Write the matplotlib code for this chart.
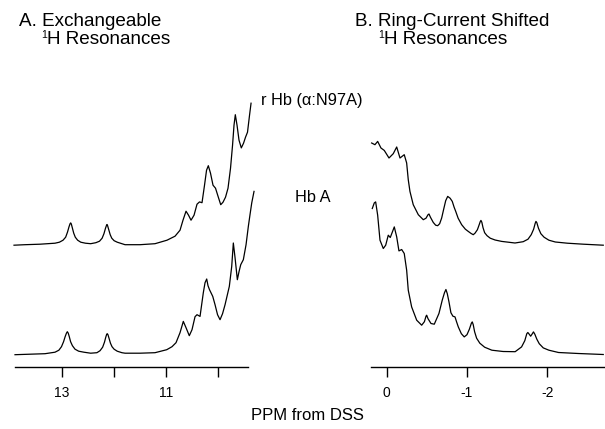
import matplotlib
matplotlib.use("Agg")
import matplotlib.pyplot as plt

plt.rcParams['font.family'] = ['Liberation Sans', 'DejaVu Sans']

# ---------------- Data (ppm, intensity above each trace's baseline) ----------------
# Panel A: exchangeable 1H resonances
a_upper_ppm = [13.921, 13.710, 13.422, 13.134, 13.050, 12.980, 12.930, 12.895, 12.865, 12.845,
               12.833, 12.820, 12.800, 12.775, 12.745, 12.700, 12.640, 12.550, 12.450, 12.350,
               12.280, 12.230, 12.195, 12.165, 12.145, 12.136, 12.125, 12.100, 12.075, 12.045,
               12.000, 11.940, 11.850, 11.790, 11.503, 11.215, 10.985, 10.831, 10.735, 10.678,
               10.620, 10.572, 10.524, 10.466, 10.409, 10.361, 10.313, 10.265, 10.226, 10.192,
               10.150, 10.102, 10.054, 10.006, 9.954, 9.910, 9.862, 9.814, 9.766, 9.727,
               9.699, 9.674, 9.641, 9.603, 9.559, 9.516, 9.478, 9.440, 9.401, 9.372]
a_upper_int = [0, 0.5, 1, 2, 3, 5, 8, 13, 18.5, 21.5,
               22.3, 21, 17, 12, 8, 5, 3, 2, 1.5, 2.5,
               4, 7, 11.5, 17, 20, 20.7, 19.5, 15, 10.5, 7,
               4.5, 3, 1.5, 0.5, 0.5, 1.5, 5, 9, 15, 25,
               34, 30, 25, 30, 41, 43.3, 42.5, 60, 75, 79.5,
               72, 60, 57, 49, 40.5, 43, 48, 57, 77, 100,
               120, 130.5, 120, 105, 97.3, 102, 108, 113, 130, 142]

a_lower_ppm = [13.902, 13.614, 13.326, 13.134, 13.060, 13.010, 12.970, 12.940, 12.915, 12.898,
               12.880, 12.860, 12.835, 12.800, 12.750, 12.680, 12.580, 12.450, 12.330, 12.270,
               12.220, 12.185, 12.160, 12.142, 12.131, 12.118, 12.095, 12.070, 12.040, 12.000,
               11.940, 11.850, 11.790, 11.503, 11.215, 10.990, 10.889, 10.812, 10.735, 10.672,
               10.620, 10.557, 10.505, 10.447, 10.409, 10.351, 10.288, 10.255, 10.223, 10.198,
               10.169, 10.107, 10.063, 10.015, 9.967, 9.919, 9.871, 9.789, 9.743, 9.712,
               9.679, 9.635, 9.603, 9.570, 9.520, 9.468, 9.424, 9.392, 9.359, 9.315]
a_lower_int = [0, 0.5, 1, 2.5, 4.5, 8, 13, 18, 21.5, 23,
               21.5, 18, 13, 9, 5.5, 3.5, 2.5, 1.5, 2, 4,
               7.5, 12.5, 17.5, 20.5, 21, 20, 16, 11.5, 8, 5.5,
               3.5, 2, 1.5, 1.5, 2, 5, 8, 12, 22, 33.3,
               27, 19, 25, 38, 40, 38.3, 62, 72, 75.7, 69,
               65, 58.3, 50, 40, 35, 41, 50, 68.3, 88.3, 111.7,
               97, 75, 83, 90, 95, 110, 128.3, 140, 151.7, 163.3]

# Panel B: ring-current shifted 1H resonances
b_upper_ppm = [0.187, 0.146, 0.112, 0.071, 0.030, -0.029, -0.082, -0.125, -0.166, -0.219,
               -0.249, -0.269, -0.290, -0.331, -0.394, -0.456, -0.490, -0.515, -0.527, -0.545,
               -0.580, -0.610, -0.635, -0.660, -0.685, -0.710, -0.735, -0.760, -0.790, -0.817,
               -0.840, -0.860, -0.890, -0.934, -0.980, -1.016, -1.050, -1.078, -1.100, -1.130,
               -1.150, -1.165, -1.174, -1.185, -1.200, -1.220, -1.250, -1.290, -1.350, -1.432,
               -1.598, -1.700, -1.760, -1.800, -1.830, -1.850, -1.859, -1.870, -1.890, -1.920,
               -1.960, -2.020, -2.100, -2.250, -2.450, -2.697]
b_upper_int = [102.2, 100.5, 103.8, 97.2, 94.8, 87.2, 91.5, 98.2, 87.2, 90.5,
               82.2, 65.5, 53.8, 40.5, 30.5, 25.5, 27, 30.5, 31.2, 28,
               22.8, 20, 19.5, 21.5, 27.2, 36, 44.5, 48.8, 47, 43.8,
               38, 33.8, 27, 20.5, 16, 13.8, 11.8, 10.5, 12, 15.5,
               20, 23.5, 24.8, 23, 17.5, 12.5, 9.5, 7, 5.2, 3.8,
               2.2, 3.5, 6, 10.5, 16, 22, 23.8, 22.5, 17, 11.5,
               8, 5, 3.2, 2, 1, 0]

b_lower_ppm = [0.179, 0.154, 0.137, 0.112, 0.083, 0.042, 0.012, -0.020, -0.045, -0.095,
               -0.125, -0.153, -0.187, -0.219, -0.249, -0.269, -0.311, -0.374, -0.436, -0.470,
               -0.490, -0.498, -0.515, -0.552, -0.593, -0.651, -0.692, -0.720, -0.738, -0.755,
               -0.776, -0.800, -0.825, -0.851, -0.870, -0.892, -0.930, -0.966, -1.000, -1.030,
               -1.055, -1.066, -1.078, -1.095, -1.120, -1.160, -1.220, -1.310, -1.450, -1.600,
               -1.680, -1.720, -1.745, -1.758, -1.775, -1.793, -1.810, -1.828, -1.845, -1.870,
               -1.900, -1.950, -2.020, -2.140, -2.386, -2.697]
b_lower_int = [146.2, 151.8, 152.8, 139.5, 114.5, 106.2, 109.5, 119.5, 117.2, 127.8,
               117.8, 103.8, 105.2, 101.2, 84.5, 64.5, 47.8, 34.5, 29.5, 33,
               38.5, 39.5, 36, 31.2, 30.5, 41.2, 54.5, 62, 65.2, 61,
               52.8, 42, 38.5, 37.8, 33, 27.8, 21, 17.8, 20, 25.5,
               31.5, 32.8, 30, 23, 16.5, 11.5, 7.5, 4.5, 3.2, 3,
               7.8, 14, 21, 22.2, 20.5, 18.5, 20.5, 22.8, 20.5, 15.5,
               11, 6.8, 4.5, 2.2, 1.2, 0.2]

a_ticks = [13, 12, 11, 10]
a_ticklabels = ["13", "", "11", ""]
b_ticks = [0, -1, -2]
b_ticklabels = ["0", "-1", "-2"]

# ---------------- Layout ----------------
W, H = 605, 429
fig = plt.figure(figsize=(W / 100, H / 100), dpi=100)

axis_y = 366.7
top_y = 60.0
upper_offset = 121.5
lower_offset = 12.0


def add_axes(x0, x1):
    return fig.add_axes([x0 / W, (H - axis_y) / H, (x1 - x0) / W, (axis_y - top_y) / H])


def px(x, y):
    return x / W, 1 - y / H


axA = add_axes(12.5, 254.8)
axB = add_axes(371.4, 605.1)

for ax, xl, bounds, ticks, labels, traces in [
    (axA, (13.95, 9.30), (13.90, 9.43), a_ticks, a_ticklabels,
     [(a_upper_ppm, a_upper_int, upper_offset), (a_lower_ppm, a_lower_int, lower_offset)]),
    (axB, (0.19, -2.72), (0.19, -2.72), b_ticks, b_ticklabels,
     [(b_upper_ppm, b_upper_int, upper_offset), (b_lower_ppm, b_lower_int, lower_offset)]),
]:
    for xs, ys, off in traces:
        ax.plot(xs, [v + off for v in ys], color='black', lw=0.9, clip_on=False,
                solid_joinstyle='round')
    ax.set_xlim(*xl)
    ax.set_ylim(0, axis_y - top_y)
    for s in ['left', 'right', 'top']:
        ax.spines[s].set_visible(False)
    ax.spines['bottom'].set_bounds(*bounds)
    ax.spines['bottom'].set_linewidth(1.0)
    ax.set_yticks([])
    ax.set_xticks(ticks)
    ax.set_xticklabels(labels)
    ax.tick_params(axis='x', direction='out', length=7, width=1.0, pad=7, labelsize=10)
    ax.patch.set_visible(False)

# ---------------- Text ----------------
fig.text(*px(19, 26), "A. Exchangeable", fontsize=13.6, va='baseline', ha='left')
fig.text(*px(41.5, 37.5), "1", fontsize=7.5, va='baseline', ha='left')
fig.text(*px(47, 43.8), "H Resonances", fontsize=13.6, va='baseline', ha='left')

fig.text(*px(355, 26), "B. Ring-Current Shifted", fontsize=13.6, va='baseline', ha='left')
fig.text(*px(378, 37.5), "1", fontsize=7.5, va='baseline', ha='left')
fig.text(*px(384, 43.8), "H Resonances", fontsize=13.6, va='baseline', ha='left')

fig.text(*px(261, 100.5), "r Hb (\u03b1:N97A)", fontsize=11.8, va='center', ha='left')
fig.text(*px(295, 198), "Hb A", fontsize=11.8, va='center', ha='left')

fig.text(*px(307, 416), "PPM from DSS", fontsize=12, va='center', ha='center')

fig.savefig("out.png", dpi=100)
